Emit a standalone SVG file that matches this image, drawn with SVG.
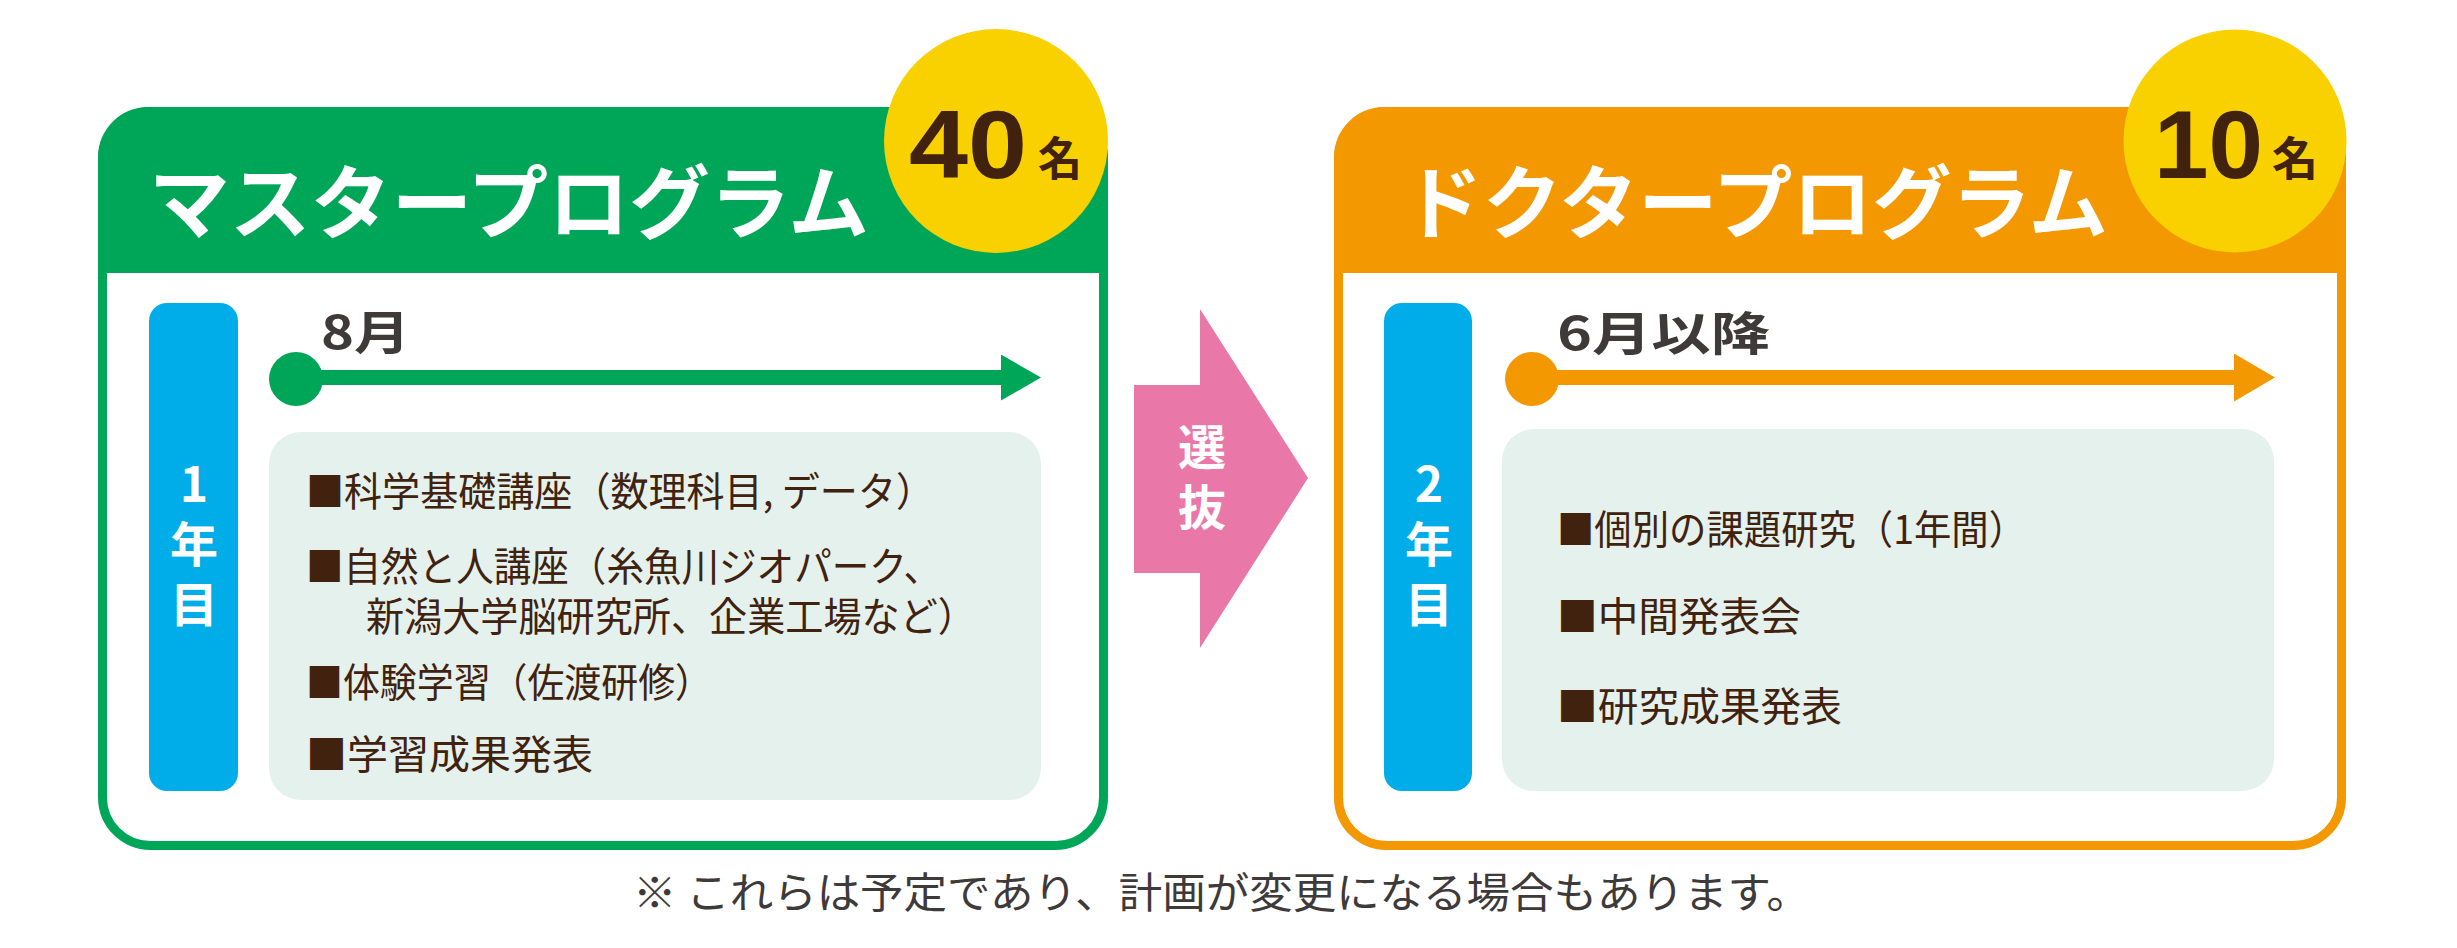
<svg xmlns="http://www.w3.org/2000/svg" width="2457" height="948" viewBox="0 0 2457 948">
<style>
.jp{font-family:"Noto Sans CJK JP","Noto Sans CJK SC",sans-serif;}
.title{font-size:80px;font-weight:700;fill:#ffffff;dominant-baseline:central;}
.count{font-family:"Liberation Sans",Arial,sans-serif;font-size:97px;font-weight:700;fill:#40220f;}
.mei{font-size:46px;font-weight:700;fill:#40220f;dominant-baseline:central;}
.vert{font-size:48px;font-weight:700;fill:#ffffff;writing-mode:vertical-rl;text-orientation:upright;letter-spacing:12px;}
.when{font-size:46px;font-weight:700;fill:#3e3a39;dominant-baseline:central;}
.item{font-size:40px;fill:#40220f;dominant-baseline:central;}
.note{font-size:42px;fill:#3e3a39;dominant-baseline:central;}
.bar{fill:#00ade9;}
.panel{fill:#e4f1ec;}
.badge{fill:#f9d000;}
</style>
<defs>
<marker id="headG" markerUnits="userSpaceOnUse" markerWidth="40" markerHeight="46" viewBox="0 0 40 46" refX="0" refY="23" orient="auto"><path d="M0,0 L40,23 L0,46 Z" fill="#00a658"/></marker>
<marker id="headO" markerUnits="userSpaceOnUse" markerWidth="41" markerHeight="48" viewBox="0 0 41 48" refX="0" refY="24" orient="auto"><path d="M0,0 L41,24 L0,48 Z" fill="#f39800"/></marker>
</defs>

<g id="master-program">
<rect x="102.5" y="111.5" width="1001" height="734" rx="48" fill="#ffffff" stroke="#00a658" stroke-width="9"/>
<path d="M98,273 V157 A50,50 0 0 1 148,107 H1058 A50,50 0 0 1 1108,157 V273 Z" fill="#00a658"/>
<text class="jp title" x="149" y="197" textLength="720" lengthAdjust="spacingAndGlyphs">マスタープログラム</text>
<circle class="badge" cx="996" cy="141" r="112"/>
<text class="count" x="909" y="178" textLength="118" lengthAdjust="spacingAndGlyphs">40</text>
<text class="jp mei" x="1038" y="155" textLength="44" lengthAdjust="spacingAndGlyphs">名</text>
<rect class="bar" x="149" y="303" width="89" height="488" rx="18"/>
<text class="jp vert" x="194" y="460">1年目</text>
<text class="jp when" x="321" y="329" textLength="89" lengthAdjust="spacingAndGlyphs">8月</text>
<circle cx="296" cy="379" r="27" fill="#00a658"/>
<line x1="296" y1="377.5" x2="1001" y2="377.5" stroke="#00a658" stroke-width="15" marker-end="url(#headG)"/>
<rect class="panel" x="269" y="432" width="772" height="368" rx="32"/>
<text class="jp item" x="306" y="488.5" textLength="628" lengthAdjust="spacingAndGlyphs">■科学基礎講座（数理科目, データ）</text>
<text class="jp item" x="306" y="564" textLength="635" lengthAdjust="spacingAndGlyphs">■自然と人講座（糸魚川ジオパーク、</text>
<text class="jp item" x="366" y="614" textLength="610" lengthAdjust="spacingAndGlyphs">新潟大学脳研究所、企業工場など）</text>
<text class="jp item" x="306" y="680" textLength="406" lengthAdjust="spacingAndGlyphs">■体験学習（佐渡研修）</text>
<text class="jp item" x="306" y="752" textLength="287" lengthAdjust="spacingAndGlyphs">■学習成果発表</text>
</g>

<g id="doctor-program">
<rect x="1338.5" y="111.5" width="1003" height="734" rx="48" fill="#ffffff" stroke="#f39800" stroke-width="9"/>
<path d="M1334,273 V157 A50,50 0 0 1 1384,107 H2296 A50,50 0 0 1 2346,157 V273 Z" fill="#f39800"/>
<text class="jp title" x="1403" y="197" textLength="705" lengthAdjust="spacingAndGlyphs">ドクタープログラム</text>
<circle class="badge" cx="2235" cy="141" r="111.5"/>
<text class="count" x="2154" y="178" textLength="109" lengthAdjust="spacingAndGlyphs">10</text>
<text class="jp mei" x="2272" y="155" textLength="46" lengthAdjust="spacingAndGlyphs">名</text>
<rect class="bar" x="1384" y="303" width="88" height="488" rx="18"/>
<text class="jp vert" x="1429" y="460">2年目</text>
<text class="jp when" x="1557" y="330" textLength="213" lengthAdjust="spacingAndGlyphs">6月以降</text>
<circle cx="1532" cy="379" r="27" fill="#f39800"/>
<line x1="1532" y1="377.5" x2="2234" y2="377.5" stroke="#f39800" stroke-width="15" marker-end="url(#headO)"/>
<rect class="panel" x="1502" y="429" width="772" height="362" rx="32"/>
<text class="jp item" x="1557" y="527" textLength="469" lengthAdjust="spacingAndGlyphs">■個別の課題研究（1年間）</text>
<text class="jp item" x="1557" y="614" textLength="244" lengthAdjust="spacingAndGlyphs">■中間発表会</text>
<text class="jp item" x="1557" y="704" textLength="285" lengthAdjust="spacingAndGlyphs">■研究成果発表</text>
</g>

<g id="connectors">
<polygon points="1134,385 1200,385 1200,309 1308,478 1200,648 1200,573 1134,573" fill="#e978a8"/>
<text class="jp vert" x="1202" y="422.5">選抜</text>
</g>

<g id="note">
<text class="jp note" x="633" y="889" textLength="1177" lengthAdjust="spacingAndGlyphs">※ これらは予定であり、計画が変更になる場合もあります。</text>
</g>
</svg>
